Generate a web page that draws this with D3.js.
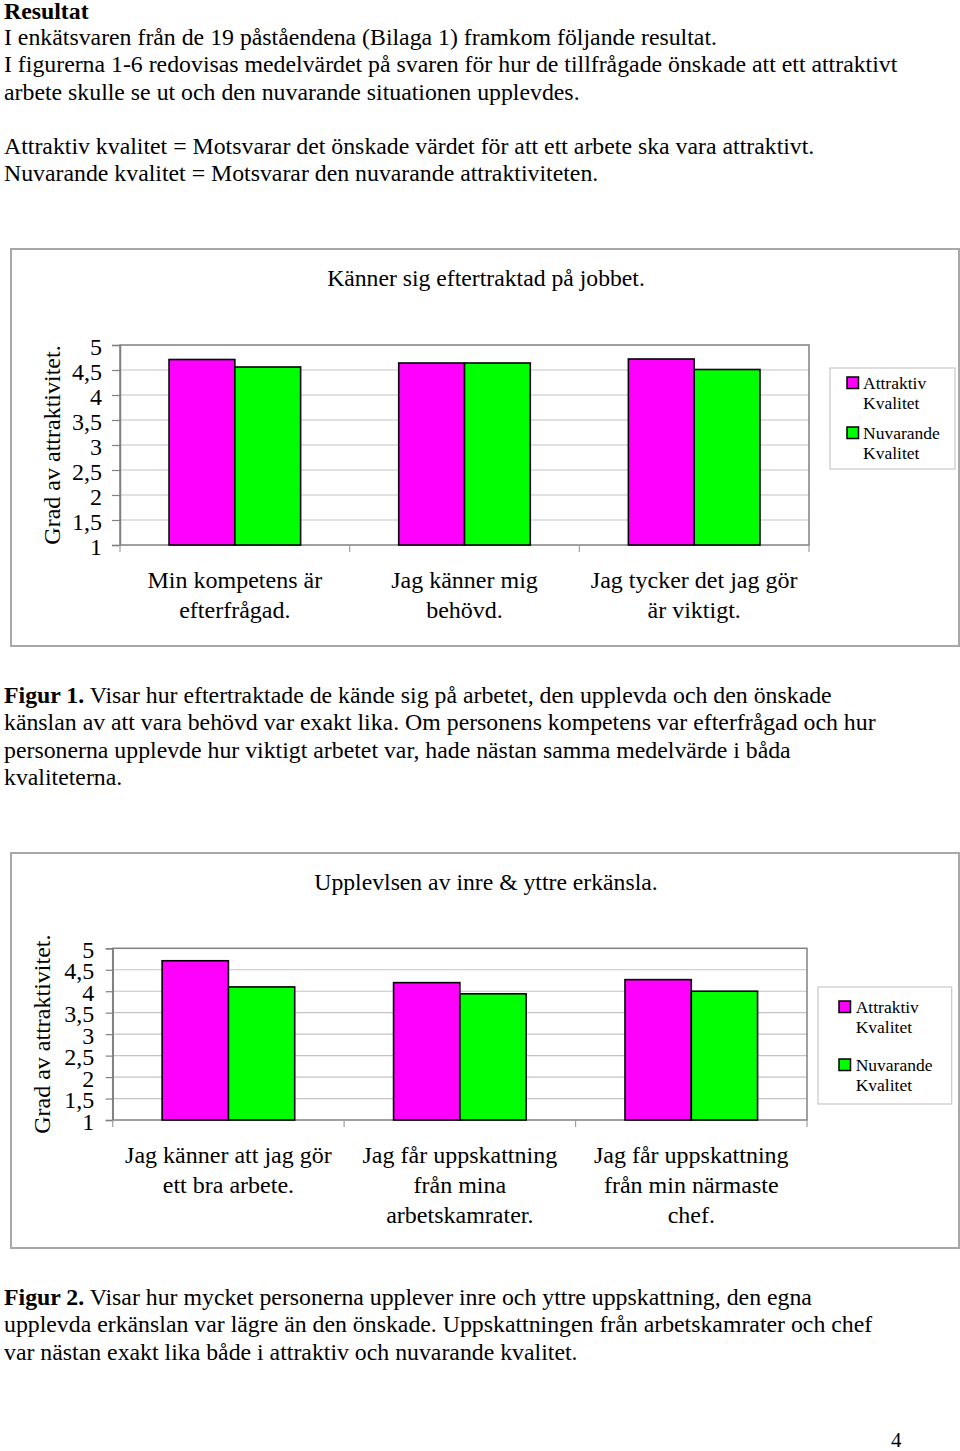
<!DOCTYPE html>
<html><head><meta charset="utf-8">
<script src="https://cdn.jsdelivr.net/npm/d3@7"></script>
<style>html,body{margin:0;padding:0;background:#fff;}svg{display:block;font-family:"Liberation Serif","Times New Roman",serif;}</style>
</head><body>
<svg id="page" width="960" height="1451"></svg>
<script>
// ---- data ----
const seriesNames = [["Attraktiv","Kvalitet"],["Nuvarande","Kvalitet"]];
const seriesColors = ["#FF00FF","#00FF00"];
const yTicks = [1,1.5,2,2.5,3,3.5,4,4.5,5];

const title1 = "Känner sig eftertraktad på jobbet.";
const categories1 = [["Min kompetens är","efterfrågad."],["Jag känner mig","behövd."],["Jag tycker det jag gör","är viktigt."]];
const attraktiv1 = [4.71, 4.64, 4.72];
const nuvarande1 = [4.56, 4.64, 4.51];

const title2 = "Upplevlsen av inre & yttre erkänsla.";
const categories2 = [["Jag känner att jag gör","ett bra arbete."],["Jag får uppskattning","från mina","arbetskamrater."],["Jag får uppskattning","från min närmaste","chef."]];
const attraktiv2 = [4.71, 4.20, 4.27];
const nuvarande2 = [4.10, 3.94, 4.00];

const yTitle = "Grad av attraktivitet.";

const introLines = [
  "I enkätsvaren från de 19 påståendena (Bilaga 1) framkom följande resultat.",
  "I figurerna 1-6 redovisas medelvärdet på svaren för hur de tillfrågade önskade att ett attraktivt",
  "arbete skulle se ut och den nuvarande situationen upplevdes."
];
const defLines = [
  "Attraktiv kvalitet = Motsvarar det önskade värdet för att ett arbete ska vara attraktivt.",
  "Nuvarande kvalitet = Motsvarar den nuvarande attraktiviteten."
];
const caption1 = ["Figur 1.", " Visar hur eftertraktade de kände sig på arbetet, den upplevda och den önskade",
  "känslan av att vara behövd var exakt lika. Om personens kompetens var efterfrågad och hur",
  "personerna upplevde hur viktigt arbetet var, hade nästan samma medelvärde i båda",
  "kvaliteterna."];
const caption2 = ["Figur 2.", " Visar hur mycket personerna upplever inre och yttre uppskattning, den egna",
  "upplevda erkänslan var lägre än den önskade. Uppskattningen från arbetskamrater och chef",
  "var nästan exakt lika både i attraktiv och nuvarande kvalitet."];

// ---- drawing ----
const svg = d3.select("#page");
const bodyFont = 23.8;

svg.append("text").attr("x",4).attr("y",18.5).attr("font-size",bodyFont).attr("font-weight","bold").text("Resultat");
introLines.forEach((t,i)=>svg.append("text").attr("x",4).attr("y",45+i*27.3).attr("font-size",bodyFont).text(t));
defLines.forEach((t,i)=>svg.append("text").attr("x",4).attr("y",153.5+i*27.8).attr("font-size",bodyFont).text(t));

function caption(lines, y0){
  const t = svg.append("text").attr("x",4).attr("y",y0).attr("font-size",bodyFont);
  t.append("tspan").attr("font-weight","bold").text(lines[0]);
  t.append("tspan").text(lines[1]);
  lines.slice(2).forEach((l,i)=>svg.append("text").attr("x",4).attr("y",y0+(i+1)*27.3).attr("font-size",bodyFont).text(l));
}
caption(caption1, 703);
caption(caption2, 1305);
svg.append("text").attr("x",891).attr("y",1447).attr("font-size",21).text("4");

function chart(cfg){
  const g = svg.append("g");
  g.append("rect").attr("x",cfg.frame[0]).attr("y",cfg.frame[1]).attr("width",cfg.frame[2]).attr("height",cfg.frame[3])
    .attr("fill","#fff").attr("stroke","#a8a8a8").attr("stroke-width",2);
  g.append("text").attr("x",486).attr("y",cfg.titleY).attr("text-anchor","middle").attr("font-size",23.7).text(cfg.title);

  const x = d3.scaleBand().domain(d3.range(cfg.cats.length)).range([cfg.left,cfg.right]);
  const y = d3.scaleLinear().domain([1,5]).range([cfg.bottom,cfg.top]);
  const inner = d3.scaleBand().domain([0,1]).range([0,x.bandwidth()]).paddingOuter(0.7456);

  // gridlines
  g.append("g").selectAll("line").data(yTicks.slice(1,-1)).join("line")
    .attr("x1",cfg.left).attr("x2",cfg.right).attr("y1",d=>y(d)).attr("y2",d=>y(d))
    .attr("stroke","#c4c4c4").attr("stroke-width",1.2);
  // plot border
  g.append("rect").attr("x",cfg.left).attr("y",cfg.top).attr("width",cfg.right-cfg.left).attr("height",cfg.bottom-cfg.top)
    .attr("fill","none").attr("stroke","#808080").attr("stroke-width",1.5);

  // y axis
  const ya = g.append("g").attr("transform",`translate(${cfg.left},0)`)
    .call(d3.axisLeft(y).tickValues(yTicks).tickSize(cfg.tickLen).tickPadding(cfg.tickPad).tickFormat(d=>String(d).replace(".",",")));
  ya.select(".domain").attr("stroke","#808080").attr("stroke-width",1.5);
  ya.selectAll(".tick line").attr("stroke","#808080").attr("stroke-width",1.2);
  ya.selectAll(".tick text").attr("font-size",24).attr("font-family","Liberation Serif").attr("fill","#000").attr("dy","0.38em");

  // x category ticks
  const bounds = d3.range(cfg.cats.length+1).map(i=> i<cfg.cats.length ? x(i) : cfg.right);
  g.append("g").selectAll("line").data(bounds).join("line")
    .attr("x1",d=>d).attr("x2",d=>d).attr("y1",cfg.bottom).attr("y2",cfg.bottom+7)
    .attr("stroke","#a0a0a0").attr("stroke-width",1.2);

  // bars
  [cfg.a, cfg.n].forEach((vals,s)=>{
    g.append("g").selectAll("rect").data(vals).join("rect")
      .attr("x",(d,i)=>x(i)+inner(s)).attr("width",inner.bandwidth())
      .attr("y",d=>y(d)).attr("height",d=>y(1)-y(d))
      .attr("fill",seriesColors[s]).attr("stroke","#000").attr("stroke-width",1.6);
  });

  // category labels
  cfg.cats.forEach((lines,i)=>{
    lines.forEach((l,j)=>g.append("text").attr("x",x(i)+x.bandwidth()/2).attr("y",cfg.labelY+j*30)
      .attr("text-anchor","middle").attr("font-size",24).text(l));
  });

  // y title
  g.append("text").attr("transform",`translate(${cfg.yTitleX},${(cfg.top+cfg.bottom)/2}) rotate(-90)`)
    .attr("text-anchor","middle").attr("font-size",24).text(yTitle);

  // legend
  const L = cfg.legend;
  g.append("rect").attr("x",L.x).attr("y",L.y).attr("width",L.w).attr("height",L.h)
    .attr("fill","#fff").attr("stroke","#c8c8c8").attr("stroke-width",1.2);
  seriesNames.forEach((nm,s)=>{
    const yy = L.y + L.first + s*L.step;
    g.append("rect").attr("x",L.x+L.sw).attr("y",yy-12).attr("width",11.5).attr("height",11.5)
      .attr("fill",seriesColors[s]).attr("stroke","#000").attr("stroke-width",1.5);
    nm.forEach((t,j)=>g.append("text").attr("x",L.x+L.tx).attr("y",yy+j*20).attr("font-size",17.5).text(t));
  });
}

chart({frame:[11,249,948,397], title:title1, titleY:285.5, left:120, right:809, top:345, bottom:545, tickLen:8, tickPad:10,
  cats:categories1, a:attraktiv1, n:nuvarande1, labelY:588, yTitleX:60,
  legend:{x:830,y:368,w:125,h:101,sw:17,tx:33,first:21,step:50}});

chart({frame:[11,853,948,395], title:title2, titleY:890, left:112.7, right:807, top:948.3, bottom:1120, tickLen:7, tickPad:11.5,
  cats:categories2, a:attraktiv2, n:nuvarande2, labelY:1163, yTitleX:50,
  legend:{x:818,y:987,w:133.7,h:117,sw:21,tx:37.7,first:26,step:58}});
</script>
</body></html>
